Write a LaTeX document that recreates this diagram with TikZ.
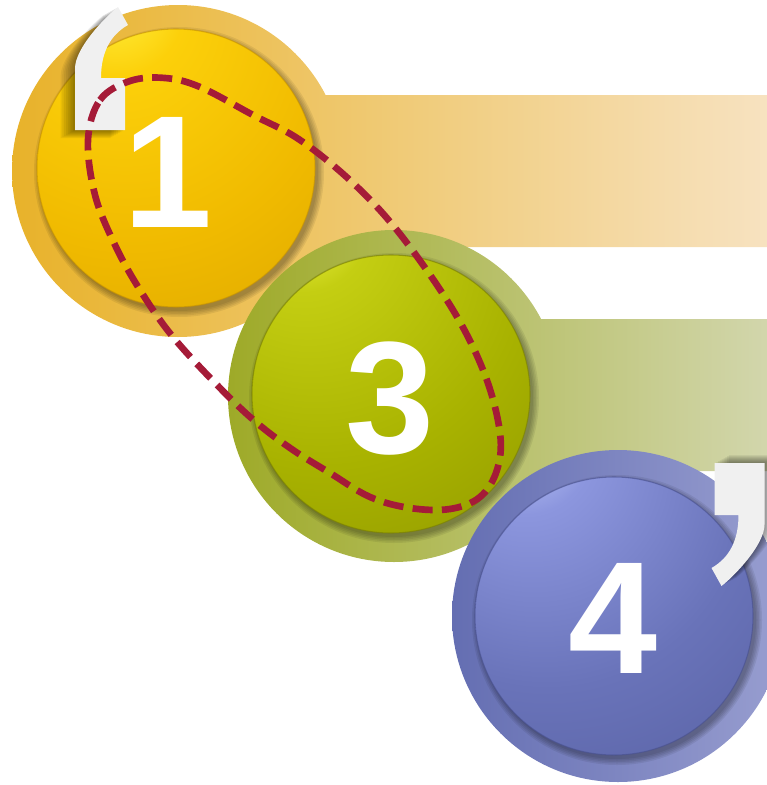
\documentclass[tikz,border=0pt]{standalone}
\usepackage{fontspec}
\setmainfont{Liberation Sans}
\definecolor{qcol}{RGB}{240,240,240}
\definecolor{dashc}{RGB}{165,27,56}
\definecolor{rAL}{RGB}{232,178,42}
\definecolor{rAM}{RGB}{238,196,100}
\definecolor{rAR}{RGB}{247,226,192}
\definecolor{rBL}{RGB}{158,170,40}
\definecolor{rBM}{RGB}{178,187,100}
\definecolor{rBR}{RGB}{210,214,172}
\definecolor{rCL}{RGB}{100,110,178}
\definecolor{rCM}{RGB}{122,132,192}
\definecolor{rCR}{RGB}{152,158,208}
\definecolor{bAhl}{RGB}{255,245,70}
\definecolor{bAmid}{RGB}{252,208,10}
\definecolor{bAbase}{RGB}{240,186,0}
\definecolor{bAdark}{RGB}{200,148,0}
\definecolor{bBhl}{RGB}{250,255,85}
\definecolor{bBmid}{RGB}{196,206,18}
\definecolor{bBbase}{RGB}{168,178,0}
\definecolor{bBdark}{RGB}{122,128,0}
\definecolor{bChl}{RGB}{205,215,255}
\definecolor{bCmid}{RGB}{140,150,222}
\definecolor{bCbase}{RGB}{105,115,185}
\definecolor{bCdark}{RGB}{72,80,142}
\pgfdeclareradialshading{ballA}{\pgfpoint{-12bp}{32bp}}{color(0bp)=(bAhl); color(12bp)=(bAmid); color(36bp)=(bAbase); color(80bp)=(bAdark); color(110bp)=(bAdark)}
\pgfdeclareradialshading{ballB}{\pgfpoint{-18bp}{34bp}}{color(0bp)=(bBhl); color(12bp)=(bBmid); color(36bp)=(bBbase); color(80bp)=(bBdark); color(110bp)=(bBdark)}
\pgfdeclareradialshading{ballC}{\pgfpoint{-18bp}{34bp}}{color(0bp)=(bChl); color(12bp)=(bCmid); color(36bp)=(bCbase); color(80bp)=(bCdark); color(110bp)=(bCdark)}
\newcommand\quoteshape{(-26.5,-61.5) -- (23.5,-61.5) -- (23.5,-9.5) -- (-0.5,-9.5) .. controls (-0.5,15) and (8,33) .. (26.5,43.5) -- (16.5,61.5) .. controls (2.5,50.5) and (-26.5,20) .. (-26.5,0) -- cycle}
\newcommand\myball[4]{%
  \foreach \k in {0,1.5,3,4.5,6}{\fill[black,opacity=0.07] (#1+3,#2-4) circle[radius=139+\k];}
  \shade[shading=#3] (#1,#2) circle[radius=139];
  \draw[#4,line width=0.8pt,opacity=0.6] (#1,#2) circle[radius=139];
}
\tikzset{
  num/.style={font=\fontsize{120}{120}\selectfont\bfseries, text=white, inner sep=0pt},
  dashloop/.style={draw=dashc, line width=5pt, dash pattern=on 15pt off 7pt},
  qshadow/.style={fill=black, opacity=0.06},
}
\begin{document}
\begin{tikzpicture}[x=0.75pt,y=0.75pt]
\useasboundingbox (0,0) rectangle (767,-785);
\clip (0,0) rectangle (767,-785);
% ring + bar 1
\shade[left color=rAL, middle color=rAM, right color=rAR] (178,-171) circle[radius=166] (178,-95) rectangle (767,-247);
\myball{176}{-168}{ballA}{bAdark}
\node[num] (n1) at (168,-172) {1};
% ring + bar 3
\shade[left color=rBL, middle color=rBM, right color=rBR] (394,-396) circle[radius=166] (394,-319) rectangle (767,-471);
\myball{391}{-394}{ballB}{bBdark}
\node[num] (n3) at (390,-399) {3};
% ring 4
\shade[left color=rCL, middle color=rCM, right color=rCR] (618,-616) circle[radius=166];
\myball{614}{-616}{ballC}{bCdark}
\node[num] (n4) at (613,-618) {4};
% quotes
\begin{scope}[shift={(101.5,-68.5)}]
  \foreach \k in {1,...,8}{\fill[qshadow, shift={(-1.8*\k,-1.0*\k)}] \quoteshape;}
  \fill[qcol] \quoteshape;
\end{scope}
\begin{scope}[shift={(738,-524.5)}, rotate=180]
  \foreach \k in {1,...,8}{\fill[qshadow, shift={(-1.8*\k,-1.0*\k)}] \quoteshape;}
  \fill[qcol] \quoteshape;
\end{scope}
% dashed loop
\draw[dashloop] plot[smooth cycle, tension=0.6] coordinates {
 (88,-140) (100,-100) (130,-81) (165,-78) (200,-87) (253,-115) (300,-140) (353,-183) (400,-234)
 (453,-310) (485,-375) (500,-433) (497,-470) (480,-497) (450,-509) (410,-508) (370,-497)
 (330,-473) (293,-450) (257,-423) (220,-388) (173,-337) (140,-290) (115,-245) (95,-195)};
\end{tikzpicture}
\end{document}
